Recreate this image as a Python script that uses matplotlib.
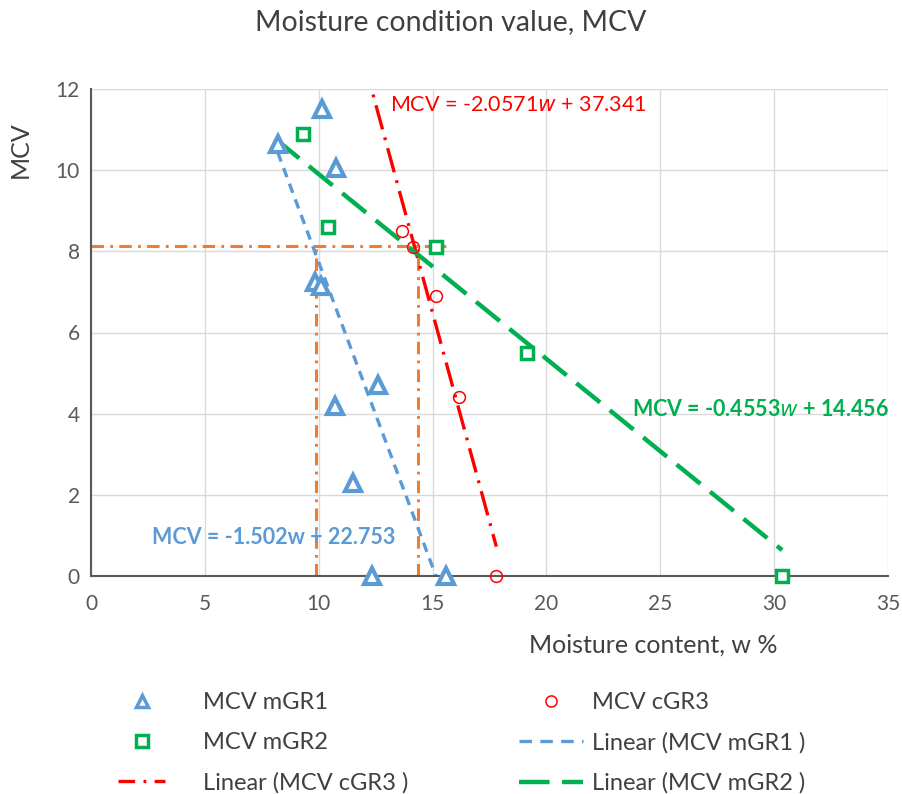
import matplotlib
matplotlib.use("Agg")
import matplotlib.pyplot as plt
import numpy as np
from matplotlib.lines import Line2D

plt.rcParams['font.family'] = ['Lato', 'DejaVu Sans']
plt.rcParams['lines.scale_dashes'] = False

# measured points
w_mgr1 = [8.2, 10.15, 10.75, 9.85, 10.1, 10.7, 12.6, 11.5, 12.35, 15.6]
mcv_mgr1 = [10.65, 11.5, 10.05, 7.25, 7.15, 4.2, 4.7, 2.3, 0.0, 0.0]

w_mgr2 = [9.3, 10.4, 15.15, 19.15, 30.35]
mcv_mgr2 = [10.9, 8.6, 8.1, 5.5, 0.0]

w_cgr3 = [13.65, 14.15, 15.15, 16.15, 17.8]
mcv_cgr3 = [8.5, 8.1, 6.9, 4.4, 0.0]

# linear fits (slope, intercept) and the w range each one covers
fit_mgr1 = (-1.502, 22.753)
fit_mgr2 = (-0.4553, 14.456)
fit_cgr3 = (-2.0571, 37.341)
span_mgr1 = [8.2, 15.6]
span_mgr2 = [8.1, 30.35]
span_cgr3 = [12.0, 17.8]

# design MCV and the matching moisture contents
mcv_target = 8.13
w_target = [9.9, 14.35]

blue = '#5B9BD5'
green = '#00B050'
red = '#FF0000'
orange = '#ED7D31'
grey = '#595959'
text_grey = '#404040'

W, H = 902, 794
fig = plt.figure(figsize=(W / 100, H / 100), dpi=100)
ax = fig.add_axes([91 / W, 1 - 576 / H, 797 / W, 487 / H])


def fit_line(fit, span):
    x = np.array(span)
    return x, fit[0] * x + fit[1]


# helper lines for the design value
ax.plot([0, 15.75], [mcv_target, mcv_target], color=orange, lw=2.2,
        dashes=(9, 4.5, 2, 4.5), zorder=2)
for w in w_target:
    ax.plot([w, w], [0, mcv_target], color=orange, lw=2.2,
            dashes=(9, 4.5, 2, 4.5), zorder=2)

# trend lines
x, y = fit_line(fit_mgr1, span_mgr1)
ax.plot(x, y, color=blue, lw=2.4, dashes=(7, 5), zorder=3)
x, y = fit_line(fit_cgr3, span_cgr3)
ax.plot(x, y, color=red, lw=2.4, dashes=(18, 6, 2, 6), zorder=3)
x, y = fit_line(fit_mgr2, span_mgr2)
ax.plot(x, y, color=green, lw=3.2, dashes=(22, 9), zorder=3)

# data points
ax.plot(w_mgr1, mcv_mgr1, ls='none', marker='^', ms=11, mfc='white',
        mec=blue, mew=3, zorder=5, clip_on=False)
ax.plot(w_cgr3, mcv_cgr3, ls='none', marker='o', ms=8.5, mfc='none',
        mec=red, mew=1.1, zorder=5, clip_on=False)
ax.plot(w_mgr2, mcv_mgr2, ls='none', marker='s', ms=9, mfc='white',
        mec=green, mew=2.5, zorder=6, clip_on=False)

ax.set_xlim(0, 35)
ax.set_ylim(0, 12)
ax.set_xticks(np.arange(0, 36, 5))
ax.set_yticks(np.arange(0, 13, 2))
ax.grid(True, color='#D9D9D9', lw=1)
ax.set_axisbelow(True)
for s in ['top', 'right']:
    ax.spines[s].set_visible(False)
for s in ['bottom', 'left']:
    ax.spines[s].set_color(grey)
    ax.spines[s].set_linewidth(1.5)
    ax.spines[s].set_zorder(4)
ax.tick_params(length=0, labelsize=15, labelcolor=grey)
ax.tick_params(axis='x', pad=13)
ax.tick_params(axis='y', pad=8)

ax.set_xlabel('Moisture content, w %', fontsize=18, color=text_grey)
ax.xaxis.set_label_coords(0.706, -0.118)
ax.set_ylabel('MCV', fontsize=18, color=text_grey)
ax.yaxis.set_label_coords(-0.074, 0.875)

fig.text(0.5, 1 - 22 / H, 'Moisture condition value, MCV', ha='center',
         va='center', fontsize=20.5, color=text_grey)

# fit equations
ax.text(13.15, 11.6, r'MCV = -2.0571$\it{w}$ + 37.341', color=red,
        fontsize=15.5, va='center')
ax.text(23.75, 4.1, r'MCV = -0.4553$\bf{\it{w}}$ + 14.456', color=green,
        fontsize=15.5, fontweight='bold', va='center')
ax.text(2.7, 0.95, 'MCV = -1.502w + 22.753', color=blue, fontsize=15.5,
        fontweight='bold', va='center')

col1 = [
    Line2D([], [], ls='none', marker='^', ms=8, mfc='white', mec=blue, mew=2.5),
    Line2D([], [], ls='none', marker='s', ms=8, mfc='white', mec=green, mew=2.5),
    Line2D([], [], color=red, lw=2.4, dashes=(12, 6, 2, 6)),
]
col2 = [
    Line2D([], [], ls='none', marker='o', ms=8, mfc='none', mec=red, mew=1.1),
    Line2D([], [], color=blue, lw=2.4, dashes=(9, 6)),
    Line2D([], [], color=green, lw=3.2, dashes=(22, 9)),
]
labels1 = ['MCV mGR1', 'MCV mGR2', 'Linear (MCV cGR3 )']
labels2 = ['MCV cGR3', 'Linear (MCV mGR1 )', 'Linear (MCV mGR2 )']

leg_opts = dict(loc='upper left', frameon=False, fontsize=17, borderpad=0,
                borderaxespad=0, labelspacing=0.8, labelcolor=text_grey)
fig.legend(col1, labels1, bbox_to_anchor=(118 / W, 1 - 692 / H),
           handlelength=2.0, handletextpad=1.6, **leg_opts)
fig.legend(col2, labels2, bbox_to_anchor=(519 / W, 1 - 692 / H),
           handlelength=2.7, handletextpad=0.4, **leg_opts)

fig.savefig('out.png', dpi=100)
